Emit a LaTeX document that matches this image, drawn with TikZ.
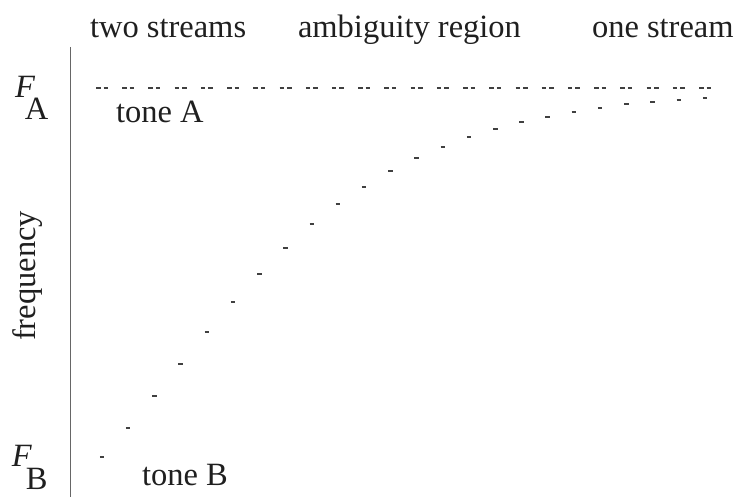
\documentclass[tikz,border=0pt]{standalone}
\usepackage{fontspec}
\setmainfont{Liberation Serif}
\begin{document}
\begin{tikzpicture}[x=1pt,y=-1pt,
  lbl/.style={anchor=base west,inner sep=0pt,outer sep=0pt,text=black!88,font=\fontsize{32.5}{38}\selectfont},
  tonedash/.style={draw=black!75,line width=1.5pt},
  axisline/.style={draw=black!60,line width=0.9pt}]
\useasboundingbox (0,0) rectangle (738,497);
% header labels
\node[lbl] (two) at (90,38) {two streams};
\node[lbl] (amb) at (298,38) {ambiguity region};
\node[lbl] (one) at (592,38) {one stream};
% axis
\coordinate (axtop) at (70,47);
\coordinate (axbot) at (70,497);
\draw[axisline] (axtop) -- (axbot);
% axis labels
\node[lbl] (FA) at (15,98) {\itshape F\upshape\kern-10pt\raisebox{-22pt}{A}};
\node[lbl] (FB) at (12,466) {\itshape F\upshape\kern-6pt\raisebox{-23pt}{B}};
\node[lbl,anchor=base,rotate=90] (freq) at (35,276) {frequency};
% tone labels
\node[lbl] (toneA) at (116,123) {tone A};
\node[lbl] (toneB) at (142,485) {tone B};
% A tones (pairs)
\foreach \i in {0,...,23}{
  \draw[tonedash] ({96+26.22*\i},88) -- ++(4.5,0);
  \draw[tonedash] ({103.5+26.22*\i},88) -- ++(4.5,0);
}
% B tones
\foreach \i/\yy in {0/457,1/428,2/396,3/364,4/332,5/302,6/274,7/248,8/224,9/204,10/187,11/171,12/158,13/147,14/137,15/129,16/122,17/117,18/112,19/108,20/104,21/102,22/100,23/98}{
  \draw[tonedash] ({99.75+26.22*\i},\yy) -- ++(4.5,0);
}
\end{tikzpicture}
\end{document}
